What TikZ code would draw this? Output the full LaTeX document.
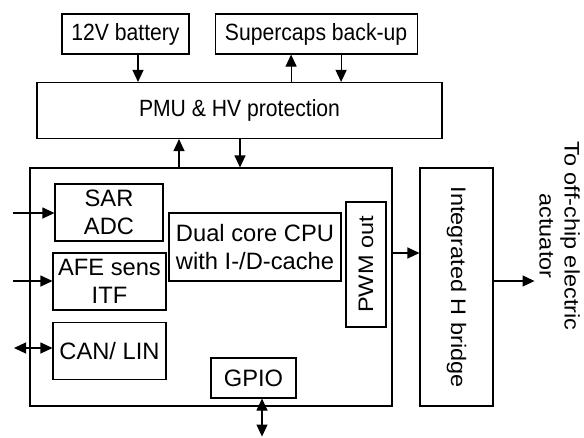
\documentclass[tikz,border=0pt]{standalone}
\usepackage{fontspec}
\setmainfont{Liberation Sans}
\newfontfamily\hfont{Liberation Sans}[FakeStretch=0.9]
\usepackage{tikz}
\usetikzlibrary{arrows.meta,positioning}

\begin{document}
\begin{tikzpicture}[
  x=1pt,y=-1pt,
  font=\hfont\fontsize{23.5}{28}\selectfont,
  node distance=25pt,
  blk/.style={draw,line width=1.1pt,inner sep=0pt,align=center},
  unit/.style={blk,font=\rmfamily\fontsize{23.7}{28}\selectfont},
  arr/.style={-{Triangle[length=12pt,width=11pt]},line width=1.1pt},
  darr/.style={{Triangle[length=12pt,width=11pt]}-{Triangle[length=12pt,width=11pt]},line width=1.1pt}
]
\useasboundingbox (0,0) rectangle (584,437);
% Supply
\node[blk,minimum width=127pt,minimum height=40pt] (bat) at (125.5,34) {12V battery};
\node[blk,minimum width=202pt,minimum height=40pt,right=25pt of bat] (sup) {Supercaps back-up};
\node[blk,minimum width=405pt,minimum height=56pt] (pmu) at (239.5,110.5) {PMU \& HV protection};
\draw[arr] ([xshift=12.5pt]bat.south) -- ([xshift=12.5pt]bat.south |- pmu.north);
\draw[arr] ([xshift=-25pt]sup.south |- pmu.north) -- ([xshift=-25pt]sup.south);
\draw[arr] ([xshift=25pt]sup.south) -- ([xshift=25pt]sup.south |- pmu.north);
% Microcontroller
\node[blk,minimum width=362pt,minimum height=238pt] (mcu) at (211,287) {};
\draw[arr] ([xshift=-32pt]mcu.north) -- ([xshift=-32pt]mcu.north |- pmu.south);
\draw[arr] ([xshift=29pt]mcu.north |- pmu.south) -- ([xshift=29pt]mcu.north);
\node[unit,minimum width=108pt,minimum height=57pt] (sar) at (109,212.5) {SAR\\ADC};
\node[unit,minimum width=113pt,minimum height=57pt] (afe) at (109.5,281.5) {AFE sens\\ITF};
\node[unit,minimum width=113pt,minimum height=57pt,below=11pt of afe] (can) {CAN/ LIN};
\node[unit,minimum width=172pt,minimum height=68pt] (cpu) at (255,247) {Dual core CPU\\with I-/D-cache};
\node[blk,rotate=90,minimum width=125pt,minimum height=40pt] (pwm) at (366,264.5) {\scalebox{1.11}[0.893]{PWM out}};
\node[unit,minimum width=85pt,minimum height=40pt] (gpio) at (253.5,378) {GPIO};
% Inputs
\coordinate (sarin) at (13,213);
\coordinate (afein) at (13,281);
\coordinate (canio) at (14,348);
\draw[arr] (sarin) -- (sarin -| sar.west);
\draw[arr] (afein) -- (afein -| afe.west);
\draw[darr] (canio) -- (canio -| can.west);
\draw[darr] ([xshift=8.5pt]gpio.south) -- ++(0,38);
% Output stage
\node[blk,rotate=-90,minimum width=238pt,minimum height=73pt] (hb) at (456.5,287) {\scalebox{1.11}[0.893]{Integrated H bridge}};
\node[rotate=-90] (act) at (557,236) {\scalebox{1.11}[0.893]{\begin{tabular}{@{}c@{}}To off-chip electric\\actuator\end{tabular}}};
\draw[arr] ([yshift=11.5pt]pwm.south -| mcu.east) -- ([yshift=11.5pt]pwm.south -| hb.south);
\draw[arr] ([yshift=6pt]hb.north) -- ++(41,0);
\end{tikzpicture}
\end{document}
